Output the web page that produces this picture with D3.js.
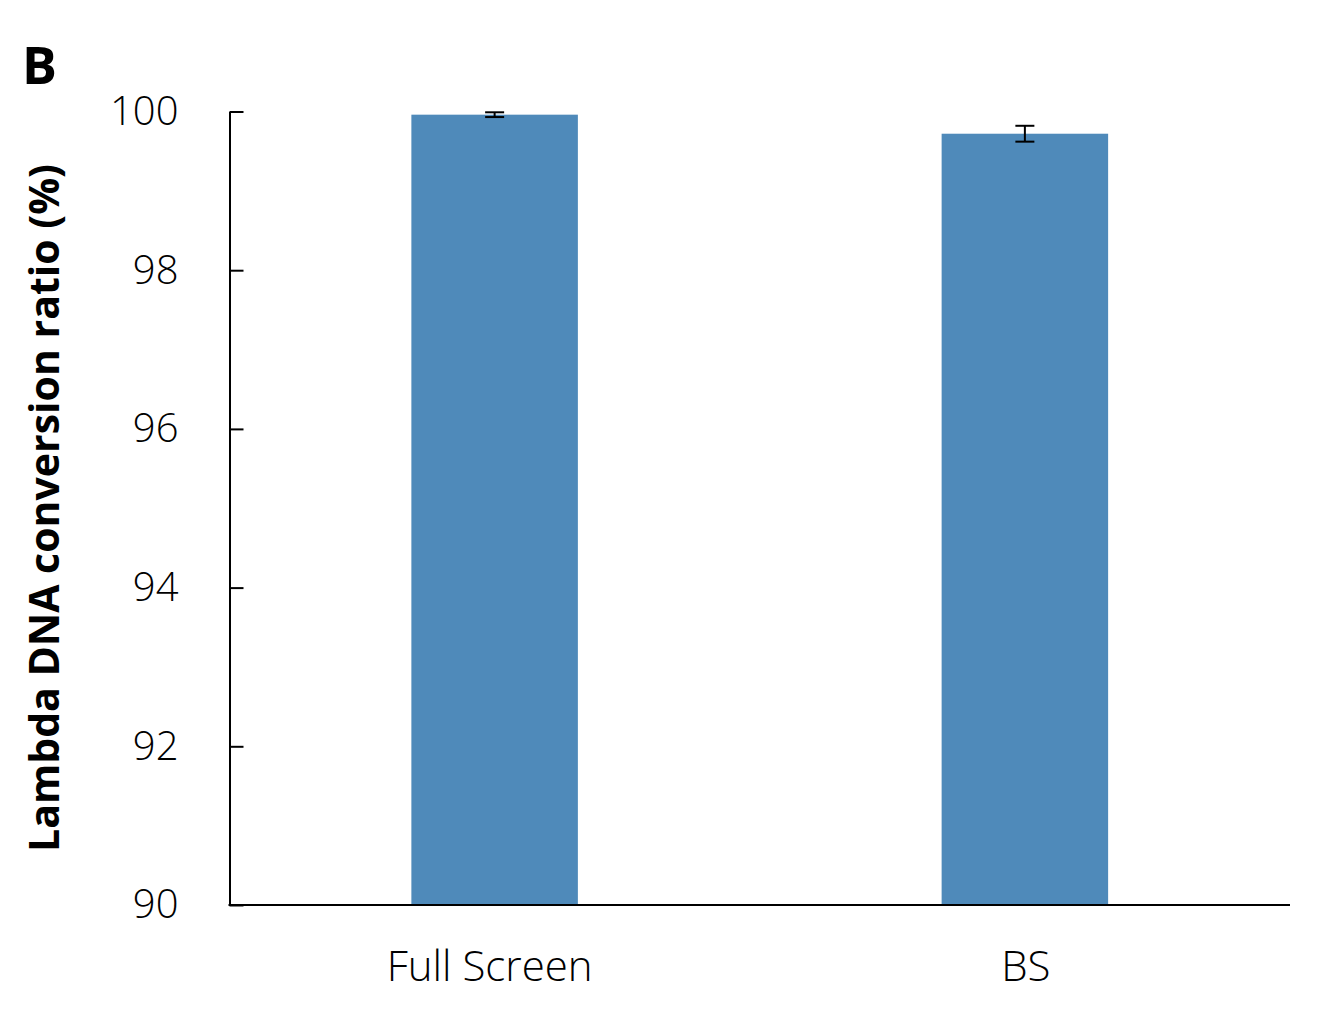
<!DOCTYPE html>
<html><head><meta charset="utf-8">
<script src="https://cdn.jsdelivr.net/npm/d3@7"></script>
<style>
body{margin:0;background:#fff;}
text{font-family:"Open Sans",sans-serif;}
</style></head>
<body><svg id="chart" width="1324" height="1017"></svg>
<script>
const categories = ["Full Screen", "BS"];
const values = [99.96, 99.72];
const errors = [0.03, 0.10];
const yTicks = [90, 92, 94, 96, 98, 100];

(function(){
const svg = d3.select("#chart");
const mLeft = 229.5, mRight = 1290, mTop = 111.5, mBottom = 905;
const x = d3.scaleBand().domain(categories).range([mLeft, mRight]).paddingInner(0.686).paddingOuter(0.343);
const y = d3.scaleLinear().domain([90, 100]).range([mBottom, mTop]);

svg.selectAll("rect.bar").data(categories).enter().append("rect")
  .attr("class","bar")
  .attr("x", d => x(d)).attr("width", x.bandwidth())
  .attr("y", (d,i) => y(values[i])).attr("height", (d,i) => y(90) - y(values[i]))
  .attr("fill", "#4f8aba");

const eb = svg.selectAll("g.err").data(categories).enter().append("g").attr("class","err")
  .attr("stroke","#000").attr("stroke-width",2);
eb.append("line").attr("x1", d => x(d)+x.bandwidth()/2).attr("x2", d => x(d)+x.bandwidth()/2)
  .attr("y1",(d,i)=>y(values[i]+errors[i])).attr("y2",(d,i)=>y(values[i]-errors[i]));
eb.append("line").attr("x1", d => x(d)+x.bandwidth()/2-9.5).attr("x2", d => x(d)+x.bandwidth()/2+9.5)
  .attr("y1",(d,i)=>y(values[i]+errors[i])).attr("y2",(d,i)=>y(values[i]+errors[i]));
eb.append("line").attr("x1", d => x(d)+x.bandwidth()/2-9.5).attr("x2", d => x(d)+x.bandwidth()/2+9.5)
  .attr("y1",(d,i)=>y(values[i]-errors[i])).attr("y2",(d,i)=>y(values[i]-errors[i]));

const yAxis = svg.append("g").attr("transform",`translate(${mLeft},0)`)
  .call(d3.axisRight(y).tickValues(yTicks).tickSize(14).tickSizeOuter(0).tickFormat(d3.format("d")));
yAxis.select(".domain").attr("stroke","#000").attr("stroke-width",2);
yAxis.selectAll(".tick line").attr("stroke","#000").attr("stroke-width",2);
yAxis.selectAll(".tick text").attr("x",-51).attr("text-anchor","end")
  .attr("font-size",40).attr("font-weight",300).attr("fill","#000")
  .style("font-family","'Open Sans',sans-serif");

const xAxis = svg.append("g").attr("transform",`translate(0,${mBottom})`)
  .call(d3.axisBottom(x).tickSize(0).tickSizeOuter(0));
xAxis.select(".domain").attr("stroke","#000").attr("stroke-width",2).attr("d",`M${mLeft-1},0H${mRight}`);
xAxis.selectAll(".tick text").attr("y",0).attr("dy",0)
  .attr("transform",(d,i)=> i===0 ? "translate(-5,76)" : "translate(1,76)")
  .attr("font-size",42).attr("font-weight",300).attr("fill","#000")
  .style("font-family","'Open Sans',sans-serif");

svg.append("text").attr("transform","translate(59,508) rotate(-90)")
  .attr("text-anchor","middle").attr("font-size",41).attr("font-weight",700)
  .text("Lambda DNA conversion ratio (%)");

svg.append("text").attr("x",22).attr("y",84).attr("font-size",52).attr("font-weight",700).text("B");
})();
</script></body></html>
